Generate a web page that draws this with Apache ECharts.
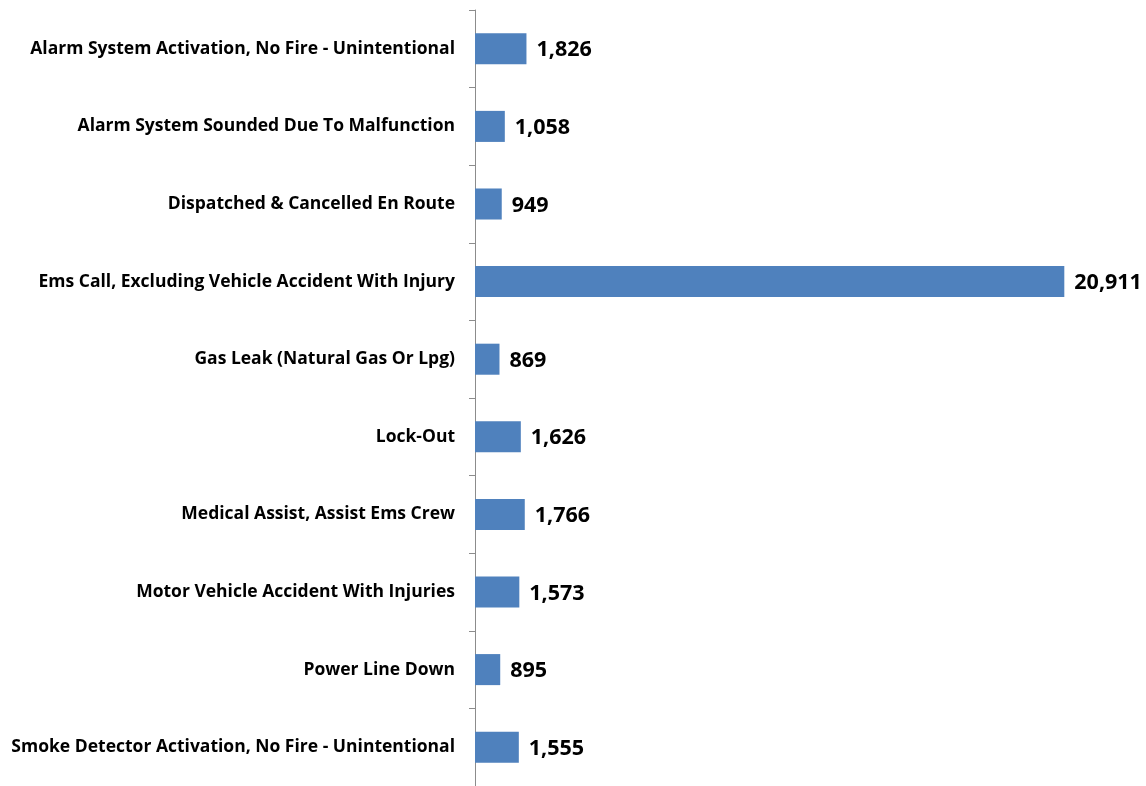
<!DOCTYPE html>
<html>
<head>
<meta charset="utf-8">
<style>
  html, body { margin: 0; padding: 0; background: #fff; }
  #chart { width: 1146px; height: 786px; }
</style>
<script src="https://cdn.jsdelivr.net/npm/echarts@6/dist/echarts.min.js"></script>
</head>
<body>
<div id="chart"></div>
<script>
// Incident types, listed top to bottom
const incidentTypes = [
  'Alarm System Activation, No Fire - Unintentional',
  'Alarm System Sounded Due To Malfunction',
  'Dispatched & Cancelled En Route',
  'Ems Call, Excluding Vehicle Accident With Injury',
  'Gas Leak (Natural Gas Or Lpg)',
  'Lock-Out',
  'Medical Assist, Assist Ems Crew',
  'Motor Vehicle Accident With Injuries',
  'Power Line Down',
  'Smoke Detector Activation, No Fire - Unintentional'
];

// Number of incidents per type
const incidentCounts = [1826, 1058, 949, 20911, 869, 1626, 1766, 1573, 895, 1555];

const chart = echarts.init(document.getElementById('chart'));
const fmt = v => v.toLocaleString('en-US');

chart.setOption({
  animation: false,
  grid: { left: 475, top: 10, height: 777, width: 620 },
  xAxis: {
    type: 'value',
    min: 0,
    max: 22000,
    show: false
  },
  yAxis: {
    type: 'category',
    data: incidentTypes,
    inverse: true,
    axisLine: { show: true, lineStyle: { color: '#8c8c8c', width: 1 } },
    axisTick: { show: true, length: 6, inside: false, lineStyle: { color: '#8c8c8c' } },
    axisLabel: {
      margin: 20,
      padding: [4, 0, 0, 0],
      color: '#000',
      fontFamily: 'Open Sans, sans-serif',
      fontWeight: 'bold',
      fontSize: 17.5
    },
    splitLine: { show: false }
  },
  series: [{
    type: 'bar',
    data: incidentCounts,
    barWidth: '40%',
    itemStyle: { color: '#4F81BD' },
    label: {
      show: true,
      position: 'right',
      distance: 10,
      offset: [0, 1.5],
      color: '#000',
      fontFamily: 'Open Sans, sans-serif',
      fontWeight: 'bold',
      fontSize: 21.5,
      formatter: p => fmt(p.value)
    }
  }]
});
</script>
</body>
</html>
